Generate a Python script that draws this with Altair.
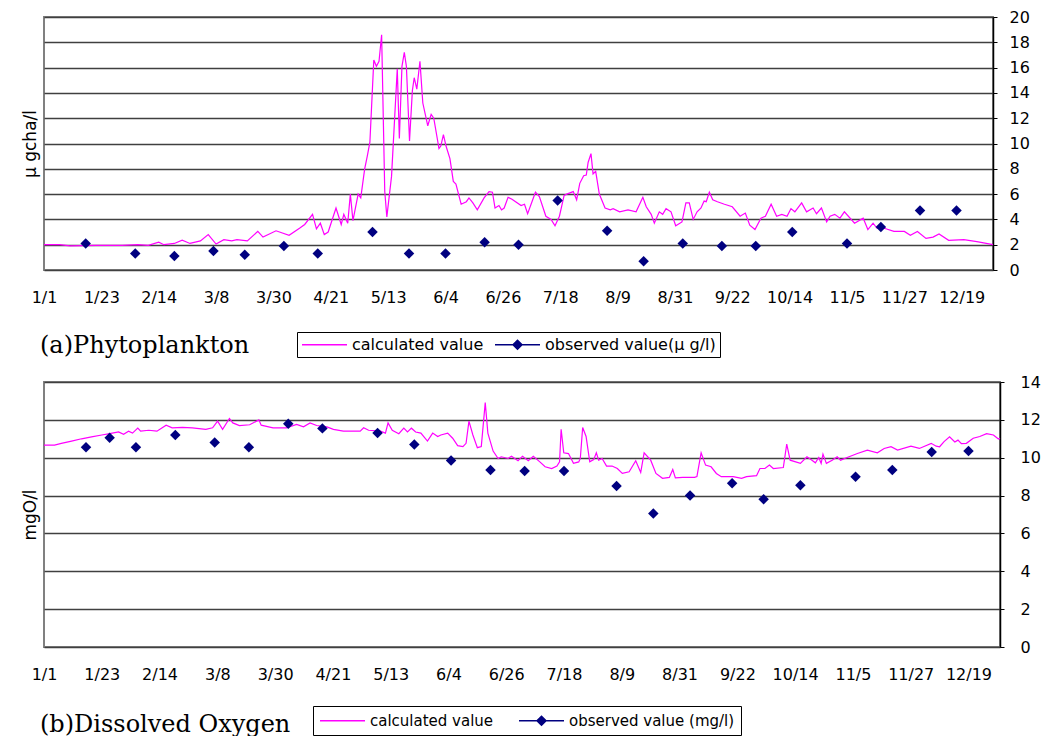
import altair as alt
import pandas as pd

# ---------------- data ----------------
tick_labels = ["1/1", "1/23", "2/14", "3/8", "3/30", "4/21", "5/13", "6/4", "6/26",
               "7/18", "8/9", "8/31", "9/22", "10/14", "11/5", "11/27", "12/19"]
tick_step = 22
tick_days = [i * tick_step for i in range(len(tick_labels))]

phyto_y_ticks = [0, 2, 4, 6, 8, 10, 12, 14, 16, 18, 20]
do_y_ticks = [0, 2, 4, 6, 8, 10, 12, 14]

# (a) phytoplankton, calculated (day of year, value)
phyto_calc_day = [0, 6, 10, 20, 30, 36, 40, 44, 46, 50, 53, 56, 60, 63, 66, 69, 72, 74, 78, 82,
                  84, 89, 94, 98, 100, 103, 104.5, 106, 107.5, 109, 112, 114, 115, 116.5, 117.5,
                  118.5, 120.5, 121.5, 123, 124, 125, 126.5, 127.5, 128.5, 129.5, 130.7, 131.5,
                  133.3, 135.5, 136.3, 137.3, 138.2, 139, 140.2, 141.3, 142, 143, 144.2, 145.3,
                  147.2, 148.5, 149.5, 151.5, 152.2, 153.2, 154.2, 155.7, 157, 158, 160, 162, 163,
                  164.5, 166.2, 168.8, 170.7, 172, 173, 174.5, 175.5, 176.5, 178, 179.5, 183,
                  184.3, 185.5, 188.5, 190, 192.5, 194.5, 196, 197.7, 199.5, 200.5, 203, 204.3,
                  205.5, 207, 208, 208.7, 209.8, 210.6, 211.6, 213, 215.2, 217.2, 218.3, 220.8,
                  224, 227.1, 229.7, 231, 232.9, 234.1, 236, 237.3, 238.6, 240.5, 242.3, 244.7,
                  246.2, 247.5, 249, 250.5, 252, 253.2, 254, 255.2, 256.5, 258.3, 261, 264, 267,
                  269, 270.7, 272.7, 275, 276.7, 278.9, 281, 283, 285, 286.5, 288, 290.6, 292.5,
                  295, 296.3, 298.2, 300.2, 301.5, 303.3, 305.3, 307, 310.9, 314.2, 316, 318,
                  319.5, 322.3, 326, 330, 332.3, 335, 338.3, 341, 343.3, 347, 352.8, 357.8, 364]
phyto_calc_val = [2.0, 2.0, 1.9, 1.95, 1.95, 2.0, 1.95, 2.2, 2.0, 2.1, 2.35, 2.1, 2.3, 2.8, 2.05,
                  2.4, 2.3, 2.4, 2.3, 3.05, 2.6, 3.1, 2.75, 3.3, 3.6, 4.4, 3.25, 3.7, 2.8, 3.0,
                  4.9, 3.6, 4.4, 3.7, 6.0, 3.9, 6.0, 5.7, 8.0, 9.0, 10.1, 16.6, 16.1, 16.5, 18.6,
                  6.2, 4.2, 7.4, 15.9, 10.4, 16.1, 17.2, 16.1, 10.2, 14.2, 15.2, 14.3, 16.5, 13.2,
                  11.4, 12.3, 12.0, 9.6, 9.8, 10.7, 9.8, 8.8, 7.0, 6.8, 5.2, 5.4, 5.7, 5.3, 4.75,
                  5.7, 6.2, 6.15, 4.9, 5.1, 4.75, 4.9, 5.75, 5.6, 5.1, 5.2, 4.45, 6.15, 5.8, 4.25,
                  4.0, 3.5, 4.25, 5.9, 6.0, 6.2, 5.55, 6.85, 7.45, 7.5, 8.5, 9.2, 7.6, 7.8, 6.0,
                  4.9, 4.75, 4.85, 4.6, 4.75, 4.6, 5.75, 5.0, 4.4, 3.7, 4.6, 4.4, 4.85, 4.6, 3.5,
                  3.8, 5.3, 5.3, 4.0, 4.6, 4.9, 5.45, 5.4, 6.15, 5.55, 5.4, 5.2, 5.0, 4.25, 4.5,
                  3.55, 3.2, 4.1, 4.25, 5.2, 4.25, 4.4, 4.25, 4.85, 4.6, 5.3, 4.6, 4.9, 4.45, 4.9,
                  3.8, 4.25, 4.4, 4.1, 4.6, 3.7, 4.1, 3.2, 3.7, 3.3, 3.3, 3.05, 3.05, 2.75, 3.05,
                  2.5, 2.6, 2.85, 2.35, 2.4, 2.25, 2.0]

# (a) phytoplankton, observed
phyto_obs_day = [16, 35, 50, 65, 77, 92, 105, 126, 140, 154, 169, 182, 197, 216, 230, 245,
                 260, 273, 287, 308, 321, 336, 350]
phyto_obs_val = [2.1, 1.3, 1.1, 1.5, 1.2, 1.9, 1.3, 3.0, 1.3, 1.3, 2.2, 2.0, 5.5, 3.1, 0.7, 2.1,
                 1.9, 1.9, 3.0, 2.1, 3.4, 4.7, 4.7]

# (b) dissolved oxygen, calculated
do_calc_day = [0, 4, 6.6, 10.5, 14.3, 18.1, 22, 25, 28.4, 30.3, 32.2, 33.7, 35.7, 36.8, 39.9, 43,
               46.5, 48.8, 52.7, 56.5, 61.6, 64.2, 66.1, 68, 70.6, 71.9, 74.4, 78.3, 81.8, 82.7,
               87.2, 92.3, 96.2, 98.8, 101.3, 103.8, 107.7, 110.2, 114, 117.9, 120.4, 121.7,
               123.6, 128.1, 130, 131, 132.6, 135.1, 137, 138.4, 139.9, 141.5, 143.5, 146, 148,
               149.9, 151.1, 153.7, 155.6, 157.5, 159.5, 160.7, 161.8, 163.3, 165, 166.5, 168,
               169, 171, 172.9, 174.1, 176.7, 178, 180.5, 182.2, 184.4, 186.3, 188.8, 190.8,
               193.3, 195.3, 196.3, 196.9, 197.9, 199.7, 201.6, 203.6, 204.2, 205.1, 206.4,
               207.8, 209.3, 210.3, 211.2, 212.5, 214.2, 216.3, 218.3, 220.2, 222.8, 225.3,
               227.2, 228.5, 231, 233, 235.5, 238.1, 239.4, 240.4, 243.2, 247.7, 248.6, 250.2,
               251.9, 254, 256, 257.9, 262.4, 265.6, 267.5, 271.3, 272.6, 274.5, 276.2, 277.7,
               281.5, 282.8, 284.1, 288, 290.5, 292.4, 293.7, 295, 295.9, 296.6, 297.9, 300.1,
               302, 303.3, 305.8, 309.7, 313.5, 317.3, 319.9, 322.5, 325, 330.1, 333.3, 337.8,
               339.7, 341, 342.7, 344.8, 346.8, 348, 349.3, 351.2, 353.8, 356.3, 358.9, 361.5,
               363.4, 364]
do_calc_val = [10.67, 10.67, 10.76, 10.88, 11.0, 11.1, 11.2, 11.27, 11.36, 11.24, 11.4, 11.3,
               11.57, 11.4, 11.45, 11.4, 11.72, 11.58, 11.6, 11.58, 11.5, 11.58, 11.93, 11.5,
               12.07, 11.84, 11.7, 11.74, 12.0, 11.72, 11.58, 11.58, 11.76, 11.63, 11.84, 11.7,
               11.63, 11.5, 11.4, 11.4, 11.4, 11.58, 11.45, 11.4, 11.3, 11.84, 11.45, 11.27,
               11.56, 11.36, 11.56, 11.36, 11.3, 10.88, 11.3, 11.12, 11.2, 11.3, 11.03, 10.64,
               10.59, 10.76, 11.93, 11.2, 10.53, 10.59, 12.91, 11.3, 10.35, 9.96, 10.05, 9.96,
               10.08, 9.84, 10.08, 9.84, 10.08, 9.78, 9.52, 9.43, 9.56, 9.78, 11.5, 10.26,
               10.22, 9.7, 9.78, 9.96, 11.6, 11.12, 9.78, 9.9, 10.26, 9.87, 9.96, 9.56, 9.56,
               9.43, 9.17, 9.26, 9.84, 9.22, 10.26, 9.87, 9.17, 8.91, 8.96, 9.38, 8.93, 8.96,
               8.96, 9.0, 10.26, 9.61, 9.52, 9.17, 9.0, 9.0, 8.91, 9.0, 9.05, 9.43, 9.43, 9.61,
               9.43, 9.48, 10.72, 9.87, 9.7, 10.05, 9.87, 9.73, 10.01, 9.7, 10.19, 9.7, 9.87,
               10.05, 9.87, 10.01, 10.22, 10.4, 10.26, 10.49, 10.58, 10.4, 10.61, 10.49, 10.76,
               10.61, 10.58, 10.85, 11.1, 10.83, 10.93, 10.74, 10.76, 11.03, 11.12, 11.27, 11.2,
               10.99, 11.03]

# (b) dissolved oxygen, observed
do_obs_day = [16, 25, 35, 50, 65, 78, 93, 106, 127, 141, 155, 170, 183, 198, 218, 232, 246,
              262, 274, 288, 309, 323, 338, 352]
do_obs_val = [10.55, 11.05, 10.55, 11.2, 10.8, 10.55, 11.8, 11.55, 11.3, 10.7, 9.85, 9.35, 9.3,
              9.3, 8.5, 7.05, 8.0, 8.65, 7.8, 8.55, 9.0, 9.35, 10.3, 10.35]

CALC = "calculated value"
MAGENTA = "#ff00ff"
NAVY = "#000080"
SANS = "DejaVu Sans"

label_expr = "[" + ",".join("'%s'" % t for t in tick_labels) + "][round(datum.value / %d)]" % tick_step


def panel(calc_day, calc_val, obs_day, obs_val, obs_label, yticks, ytitle, width, height,
          caption, caption_dx, caption_offset, legend_x, legend_y, legend_font, legend_colpad,
          legend_pad, right_pad):
    calc_df = pd.DataFrame({"day": calc_day, "value": calc_val, "series": CALC})
    obs_df = pd.DataFrame({"day": obs_day, "value": obs_val, "series": obs_label})

    xs = alt.Scale(domain=[0, 364], nice=False, zero=False)
    ys = alt.Scale(domain=[yticks[0], yticks[-1]], nice=False)
    xaxis = alt.Axis(values=tick_days, labelExpr=label_expr, title=None, grid=False,
                     ticks=False, domain=False, labelFont=SANS, labelFontSize=16,
                     labelColor="black", labelPadding=19, labelFlush=False, labelOverlap=False)
    right_axis = alt.Axis(orient="right", title=None, values=yticks, grid=True,
                          gridColor="#404040", gridWidth=1.5, domainColor="black",
                          domainWidth=1.5, tickColor="black", tickSize=4, labelFont=SANS,
                          labelFontSize=16, labelColor="black", labelPadding=right_pad)
    left_axis = alt.Axis(orient="left", title=ytitle, labels=False, ticks=False, domain=False,
                         grid=False, titleFont=SANS, titleFontSize=17, titleFontWeight="normal",
                         titleColor="black", titlePadding=5)

    is_calc = "datum.value === '%s'" % CALC
    legend = alt.Legend(
        title=None, orient="none", legendX=legend_x, legendY=legend_y,
        direction="horizontal", strokeColor="black", fillColor="white",
        padding=legend_pad, symbolSize=225, labelOffset=34, labelFont=SANS,
        labelFontSize=legend_font, labelColor="black", labelLimit=500,
        columnPadding=legend_colpad, symbolStrokeWidth=1.5, symbolOpacity=1,
        symbolType=alt.ExprRef("%s ? 'M-1,0H5' : 'M-1,0H5M2,-0.6L2.6,0L2,0.6L1.4,0Z'" % is_calc),
        symbolStrokeColor=alt.ExprRef("%s ? '%s' : '%s'" % (is_calc, MAGENTA, NAVY)),
        symbolFillColor=alt.ExprRef("%s ? '%s' : '%s'" % (is_calc, MAGENTA, NAVY)),
    )
    color = alt.Color("series:N",
                      scale=alt.Scale(domain=[CALC, obs_label], range=[MAGENTA, NAVY]),
                      legend=legend)

    line = alt.Chart(calc_df).mark_line(strokeWidth=1.2).encode(
        x=alt.X("day:Q", scale=xs, axis=xaxis),
        y=alt.Y("value:Q", scale=ys, axis=right_axis),
        color=color,
    )
    pts = alt.Chart(obs_df).mark_point(shape="diamond", filled=True, size=110, opacity=1).encode(
        x=alt.X("day:Q", scale=xs, axis=xaxis),
        y=alt.Y("value:Q", scale=ys, axis=left_axis),
        color=color,
    )
    return alt.layer(line, pts).resolve_axis(y="independent").properties(
        width=width, height=height,
        title=alt.TitleParams(caption, orient="bottom", anchor="start", frame="group",
                              font="DejaVu Serif", fontSize=24, fontWeight="normal",
                              color="black", offset=caption_offset, dx=caption_dx),
    )


top = panel(phyto_calc_day, phyto_calc_val, phyto_obs_day, phyto_obs_val,
            "observed value(\u03bc g/l)", phyto_y_ticks, "\u03bc gcha/l", 949, 253,
            "(a)Phytoplankton", -4, -24, 253, 315, 16, 8, 4, 12)
bottom = panel(do_calc_day, do_calc_val, do_obs_day, do_obs_val,
               "observed value (mg/l)", do_y_ticks, "mgO/l", 956, 265,
               "(b)Dissolved Oxygen", -4, -23, 269, 324, 15, 22, 6, 16)

chart = alt.concat(top, bottom, columns=1).properties(
    spacing=14,
    padding={"left": 12, "top": 0, "right": 0, "bottom": 0},
).resolve_scale(color="independent").configure_view(
    stroke="#808080", strokeWidth=2
)

chart.save("out.html", embed_options={"renderer": "svg", "actions": False})
